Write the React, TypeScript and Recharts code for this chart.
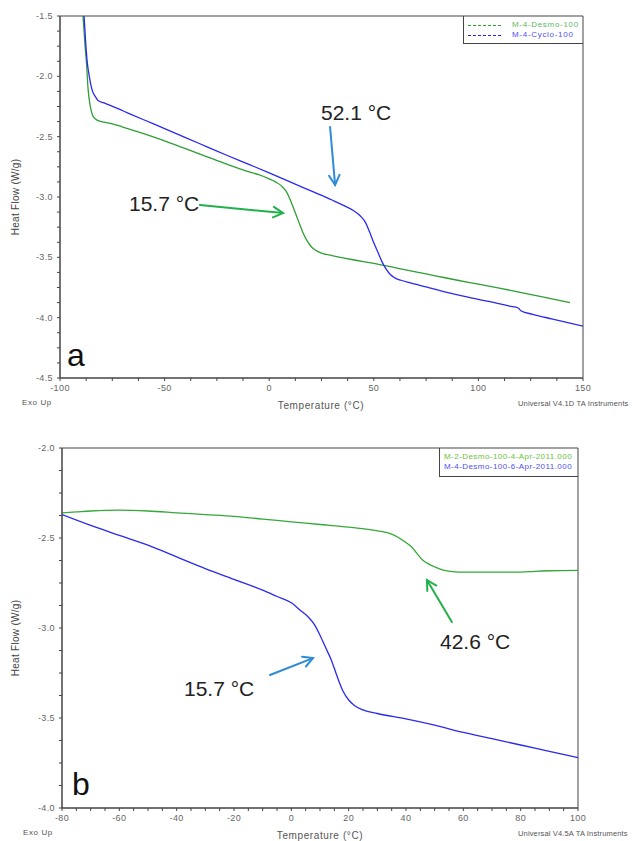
import React from "react";
import { LineChart, Line, XAxis, YAxis, ReferenceArea, ReferenceLine } from "recharts";

// ---- panel a : M-4 samples, -100..150 °C ----
const desmoATemp = [-89, -88, -87.3, -86.6, -85.5, -84.5, -83.3, -82, -79, -76, -70, -60, -50, -40, -30, -20, -10, -5, 0, 3, 6, 8, 10, 12, 14, 16, 18, 20, 22, 25, 30, 40, 50, 60, 70, 80, 90, 100, 110, 120, 130, 143.8];
const desmoAHeat = [-1.5, -1.75, -1.9, -2.1, -2.25, -2.32, -2.35, -2.365, -2.38, -2.39, -2.42, -2.475, -2.535, -2.6, -2.665, -2.73, -2.79, -2.815, -2.85, -2.875, -2.91, -2.95, -3.02, -3.11, -3.2, -3.29, -3.36, -3.41, -3.44, -3.465, -3.485, -3.52, -3.55, -3.585, -3.62, -3.655, -3.69, -3.722, -3.755, -3.79, -3.825, -3.875];

const cycloATemp = [-88.5, -87.8, -87.1, -86, -84.7, -83, -81.8, -79, -76, -70, -60, -50, -40, -30, -20, -10, 0, 10, 20, 30, 35, 40, 44, 46, 48, 50, 52, 54, 56, 58, 60, 63, 67, 75, 85, 95, 105, 115, 119, 120.5, 126, 135, 150];
const cycloAHeat = [-1.5, -1.7, -1.86, -2.0, -2.11, -2.17, -2.2, -2.22, -2.24, -2.285, -2.36, -2.433, -2.508, -2.582, -2.656, -2.728, -2.8, -2.875, -2.95, -3.025, -3.065, -3.11, -3.165, -3.21, -3.29, -3.38, -3.46, -3.54, -3.6, -3.645, -3.67, -3.69, -3.71, -3.745, -3.79, -3.83, -3.865, -3.905, -3.92, -3.945, -3.972, -4.01, -4.07];

// ---- panel b : M-2 / M-4 Desmo, -80..100 °C ----
const desmoM2Temp = [-80, -75, -70, -60, -50, -40, -30, -20, -10, 0, 10, 20, 30, 35, 40, 42, 44, 46, 48, 50, 53, 57, 60, 70, 80, 85, 90, 100];
const desmoM2Heat = [-2.36, -2.355, -2.35, -2.345, -2.35, -2.36, -2.37, -2.38, -2.395, -2.41, -2.425, -2.44, -2.46, -2.478, -2.525, -2.55, -2.59, -2.625, -2.645, -2.66, -2.678, -2.688, -2.69, -2.69, -2.69, -2.685, -2.682, -2.68];

const desmoM4Temp = [-80, -70, -60, -50, -40, -30, -20, -10, -5, 0, 3, 6, 8, 10, 12, 14, 16, 18, 20, 22, 25, 30, 40, 50, 60, 70, 80, 90, 100];
const desmoM4Heat = [-2.37, -2.43, -2.485, -2.54, -2.605, -2.67, -2.73, -2.79, -2.825, -2.86, -2.9, -2.94, -2.98, -3.04, -3.11, -3.18, -3.27, -3.35, -3.4, -3.43, -3.455, -3.475, -3.505, -3.54, -3.58, -3.615, -3.65, -3.685, -3.72];

// major tick labels
const xTicksA = [-100, -50, 0, 50, 100, 150];
const yTicksA = [-4.5, -4.0, -3.5, -3.0, -2.5, -2.0, -1.5];
const xTicksB = [-80, -60, -40, -20, 0, 20, 40, 60, 80, 100];
const yTicksB = [-4.0, -3.5, -3.0, -2.5, -2.0];

// annotation arrows: [tailT, tailHeat, tipT, tipHeat]
const arrowA52 = [29.1, -2.42, 31.5, -2.9];
const arrowA15 = [-33.1, -3.067, 6.6, -3.133];
const arrowB42 = [56.0, -2.967, 47.3, -2.733];
const arrowB15 = [-7.45, -3.261, 7.55, -3.167];

const GREEN = "#2f9e35";
const BLUE = "#2a2aee";
const ARROW_BLUE = "#2e8bd6";
const ARROW_GREEN = "#22b14c";
const AXIS = "#444";
const FONT = "'Liberation Sans', Arial, sans-serif";

function zip(ts: number[], vs: number[]) {
  return ts.map((t, i) => ({ t, v: vs[i] }));
}

// split each interval between major ticks into 4 minor steps
function withMinor(majors: number[]) {
  const out: number[] = [];
  for (let i = 0; i < majors.length - 1; i++) {
    const step = (majors[i + 1] - majors[i]) / 4;
    for (let k = 0; k < 4; k++) out.push(+(majors[i] + k * step).toFixed(4));
  }
  out.push(majors[majors.length - 1]);
  return out;
}

function makeTick(majors: number[], axis: "x" | "y") {
  return (props: any) => {
    const { x, y, payload } = props;
    const v = payload.value;
    if (!majors.some((m) => Math.abs(m - v) < 1e-6)) return <g />;
    const label = axis === "y" ? v.toFixed(1) : String(v);
    return (
      <text
        x={x}
        y={y}
        dy={axis === "y" ? "0.35em" : "0.72em"}
        textAnchor={axis === "y" ? "end" : "middle"}
        fontSize={9}
        fill="#666"
        fontFamily={FONT}
        letterSpacing={0.4}
      >
        {label}
      </text>
    );
  };
}

function Arrow(props: any) {
  const { x1, y1, x2, y2, color } = props;
  if ([x1, y1, x2, y2].some((n) => n == null || isNaN(n))) return <g />;
  const ang = Math.atan2(y2 - y1, x2 - x1);
  const len = 11;
  const a1 = ang + Math.PI - 0.5;
  const a2 = ang + Math.PI + 0.5;
  return (
    <g stroke={color} strokeWidth={2} fill="none" strokeLinecap="round">
      <line x1={x1} y1={y1} x2={x2} y2={y2} />
      <polyline
        points={`${x2 + len * Math.cos(a1)},${y2 + len * Math.sin(a1)} ${x2},${y2} ${x2 + len * Math.cos(a2)},${y2 + len * Math.sin(a2)}`}
      />
    </g>
  );
}

function arrowLine(a: number[], color: string, key: string) {
  return (
    <ReferenceLine
      key={key}
      segment={[{ x: a[0], y: a[1] }, { x: a[2], y: a[3] }]}
      ifOverflow="visible"
      shape={(p: any) => <Arrow {...p} color={color} />}
    />
  );
}

const txt = (left: number, top: number, text: string, size: number, extra: React.CSSProperties = {}) => (
  <div
    style={{
      position: "absolute",
      left,
      top,
      fontSize: size,
      lineHeight: 1,
      fontFamily: FONT,
      whiteSpace: "nowrap",
      ...extra
    }}
  >
    {text}
  </div>
);

// dashed legend sample, drawn as short coloured segments
function DashSample({ left, top, color }: { left: number; top: number; color: string }) {
  return (
    <div style={{ position: "absolute", left, top, width: 34, height: 1, display: "flex", gap: 2 }}>
      {Array.from({ length: 7 }).map((_, i) => (
        <div key={i} style={{ width: 3, height: 1, background: color }} />
      ))}
    </div>
  );
}

function PanelA() {
  return (
    <LineChart width={636} height={420} margin={{ top: 16, right: 53, bottom: 12, left: 0 }}>
      <XAxis
        dataKey="t"
        type="number"
        domain={[-100, 150]}
        ticks={withMinor(xTicksA)}
        interval={0}
        allowDataOverflow
        height={30}
        stroke={AXIS}
        tickSize={3}
        tickMargin={4}
        tick={makeTick(xTicksA, "x")}
      />
      <YAxis
        type="number"
        domain={[-4.5, -1.5]}
        ticks={withMinor(yTicksA)}
        interval={0}
        allowDataOverflow
        width={60}
        stroke={AXIS}
        tickSize={3}
        tickMargin={4}
        tick={makeTick(yTicksA, "y")}
      />
      <ReferenceArea x1={-100} x2={150} y1={-4.5} y2={-1.5} fill="none" stroke={AXIS} strokeWidth={1} />
      <Line data={zip(desmoATemp, desmoAHeat)} dataKey="v" name="M-4-Desmo-100" type="monotone" stroke={GREEN} strokeWidth={1.3} dot={false} isAnimationActive={false} />
      <Line data={zip(cycloATemp, cycloAHeat)} dataKey="v" name="M-4-Cyclo-100" type="monotone" stroke={BLUE} strokeWidth={1.3} dot={false} isAnimationActive={false} />
      {arrowLine(arrowA52, ARROW_BLUE, "a52")}
      {arrowLine(arrowA15, ARROW_GREEN, "a15")}
    </LineChart>
  );
}

function PanelB() {
  return (
    <LineChart width={636} height={421} margin={{ top: 28, right: 58, bottom: 8, left: 0 }}>
      <XAxis
        dataKey="t"
        type="number"
        domain={[-80, 100]}
        ticks={withMinor(xTicksB)}
        interval={0}
        allowDataOverflow
        height={25}
        stroke={AXIS}
        tickSize={3}
        tickMargin={4}
        tick={makeTick(xTicksB, "x")}
      />
      <YAxis
        type="number"
        domain={[-4.0, -2.0]}
        ticks={withMinor(yTicksB)}
        interval={0}
        allowDataOverflow
        width={62}
        stroke={AXIS}
        tickSize={3}
        tickMargin={4}
        tick={makeTick(yTicksB, "y")}
      />
      <ReferenceArea x1={-80} x2={100} y1={-4.0} y2={-2.0} fill="none" stroke={AXIS} strokeWidth={1} />
      <Line data={zip(desmoM2Temp, desmoM2Heat)} dataKey="v" name="M-2-Desmo-100-4-Apr-2011.000" type="monotone" stroke="#35a838" strokeWidth={1.3} dot={false} isAnimationActive={false} />
      <Line data={zip(desmoM4Temp, desmoM4Heat)} dataKey="v" name="M-4-Desmo-100-6-Apr-2011.000" type="monotone" stroke={BLUE} strokeWidth={1.3} dot={false} isAnimationActive={false} />
      {arrowLine(arrowB42, ARROW_GREEN, "b42")}
      {arrowLine(arrowB15, ARROW_BLUE, "b15")}
    </LineChart>
  );
}

const small: React.CSSProperties = { color: "#555", letterSpacing: 0.6 };
const footer: React.CSSProperties = { color: "#555", letterSpacing: 0.15 };

export default function App() {
  return (
    <div style={{ position: "absolute", left: 0, top: 0, width: 636, height: 841, background: "#fff", overflow: "hidden" }}>
      <div style={{ position: "absolute", left: 0, top: 0 }}>
        <PanelA />
      </div>
      <div style={{ position: "absolute", left: 0, top: 420 }}>
        <PanelB />
      </div>

      {/* legend a */}
      <div style={{ position: "absolute", left: 463, top: 16, width: 120, height: 28, borderLeft: `1px solid ${AXIS}`, borderBottom: `1px solid ${AXIS}`, boxSizing: "border-box" }} />
      <DashSample left={468} top={25} color="#22aa22" />
      <DashSample left={468} top={35} color="#2222ff" />
      {txt(512, 21, "M-4-Desmo-100", 8, { color: "#5cb85c", letterSpacing: 0.7 })}
      {txt(512, 31, "M-4-Cyclo-100", 8, { color: "#5050ee", letterSpacing: 0.7 })}

      {/* legend b */}
      <div style={{ position: "absolute", left: 439, top: 448, width: 139, height: 29, borderLeft: `1px solid ${AXIS}`, borderBottom: `1px solid ${AXIS}`, boxSizing: "border-box" }} />
      {txt(444, 453, "M-2-Desmo-100-4-Apr-2011.000", 8, { color: "#6abf3a", letterSpacing: 0.45 })}
      {txt(444, 463, "M-4-Desmo-100-6-Apr-2011.000", 8, { color: "#5050ee", letterSpacing: 0.45 })}

      {/* annotations */}
      {txt(321, 102, "52.1 °C", 21, { color: "#222" })}
      {txt(129, 193, "15.7 °C", 21, { color: "#222" })}
      {txt(440, 631, "42.6 °C", 21, { color: "#222" })}
      {txt(184, 678, "15.7 °C", 21, { color: "#222" })}
      {txt(67, 339, "a", 32, { color: "#111" })}
      {txt(72, 768, "b", 32, { color: "#111" })}

      {/* axis titles and footer */}
      {txt(16, 197, "Heat Flow (W/g)", 10, { color: "#444", letterSpacing: 0.3, transform: "translate(-50%, -50%) rotate(-90deg)" })}
      {txt(16, 638, "Heat Flow (W/g)", 10, { color: "#444", letterSpacing: 0.3, transform: "translate(-50%, -50%) rotate(-90deg)" })}
      {txt(321, 401, "Temperature (°C)", 10, { ...small, transform: "translateX(-50%)" })}
      {txt(320, 831, "Temperature (°C)", 10, { ...small, transform: "translateX(-50%)" })}
      {txt(22, 399, "Exo Up", 8, small)}
      {txt(23, 829, "Exo Up", 8, small)}
      {txt(518, 400, "Universal V4.1D TA Instruments", 7.5, footer)}
      {txt(518, 830, "Universal V4.5A TA Instruments", 7.5, footer)}
    </div>
  );
}
